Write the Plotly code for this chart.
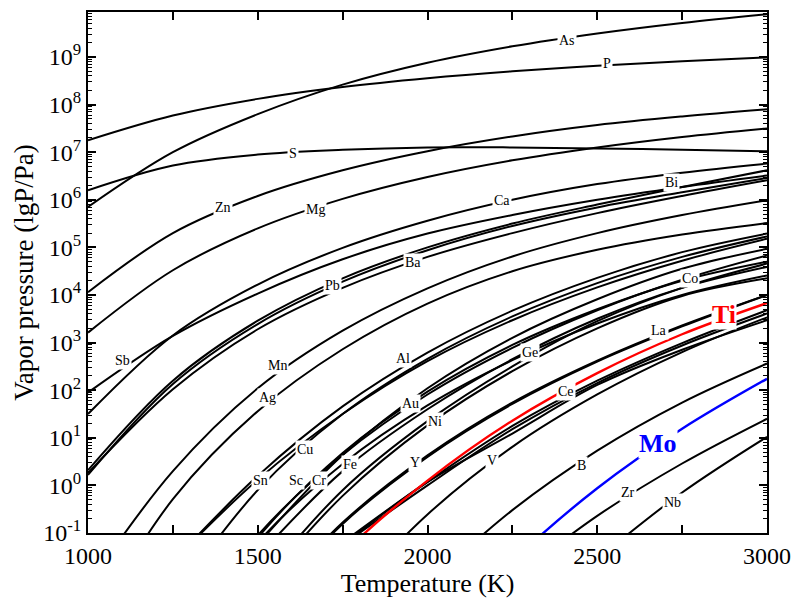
import plotly.graph_objects as go

temps = [1000, 1250, 1500, 1750, 2000, 2250, 2500, 2750, 3000]

# log10 of vapor pressure (Pa) at each temperature
As = [5.85, 7.0, 7.8, 8.42, 8.88, 9.225, 9.495, 9.716, 9.9]
P = [7.25, 7.77, 8.12, 8.37, 8.555, 8.70, 8.816, 8.91, 8.99]
S = [6.2, 6.72, 6.95, 7.05, 7.1, 7.1, 7.08, 7.05, 7.02]
Zn = [4.06, 5.3, 6.08, 6.62, 7.02, 7.33, 7.57, 7.75, 7.9]
Mg = [3.21, 4.52, 5.4, 6.02, 6.48, 6.83, 7.1, 7.32, 7.5]
Sb = [1.95, 3.14, 4.03, 4.75, 5.29, 5.68, 6.0, 6.27, 6.51]
Ca = [1.5, 3.15, 4.22, 4.99, 5.56, 6.0, 6.33, 6.57, 6.76]
Bi = [0.32, 2.2, 3.46, 4.35, 5.0, 5.5, 5.9, 6.27, 6.62]
Pb = [0.22, 2.13, 3.39, 4.28, 4.94, 5.45, 5.84, 6.16, 6.46]
Ba = [0.26, 2.02, 3.28, 4.15, 4.8, 5.3, 5.72, 6.08, 6.41]
Mn = [-2.1, 0.3, 2.04, 3.25, 4.14, 4.81, 5.3, 5.68, 5.99]
Ag = [-3.08, -0.29, 1.56, 2.86, 3.82, 4.5, 4.95, 5.27, 5.51]
Al = [None, -1.6, 0.2, 1.66, 2.79, 3.67, 4.36, 4.9, 5.29]
Cu = [None, -2.4, -0.1, 1.5, 2.66, 3.55, 4.25, 4.8, 5.23]
Sn = [None, -1.6, 0.12, 1.5, 2.61, 3.47, 4.16, 4.72, 5.18]
Cr = [None, None, -1.24, 0.64, 2.04, 3.1, 3.91, 4.55, 4.97]
Au = [None, -3.42, -1.05, 0.64, 1.91, 2.89, 3.68, 4.32, 4.83]
Sc = [None, -3.65, -1.1, 0.68, 1.97, 2.95, 3.7, 4.3, 4.7]
Co = [None, None, -2.1, -0.1, 1.35, 2.5, 3.45, 4.15, 4.66]
Fe = [None, None, -1.5, 0.3, 1.6, 2.65, 3.5, 4.15, 4.59]
Ge = [None, -3.6, -1.2, 0.45, 1.68, 2.63, 3.4, 4.0, 4.41]
Ni = [None, None, -2.2, -0.22, 1.26, 2.4, 3.3, 3.98, 4.35]
Y = [None, None, -2.7, -0.78, 0.63, 1.74, 2.62, 3.36, 4.0]
La = [None, None, -2.75, -0.81, 0.6, 1.71, 2.6, 3.34, 4.0]
Ti = [None, None, -3.62, -1.45, 0.10, 1.36, 2.36, 3.175, 3.83]
Ce = [None, None, None, -1.2, 0.08, 1.25, 2.2, 2.99, 3.68]
V = [None, None, None, -2.44, -0.61, 0.81, 1.91, 2.8, 3.53]
B = [None, None, None, None, -2.08, -0.52, 0.73, 1.74, 2.56]
Mo = [None, None, None, None, -3.5, -1.6, -0.06, 1.19, 2.24]
Zr = [None, None, None, None, None, -1.98, -0.64, 0.46, 1.4]
Nb = [None, None, None, None, None, None, -1.55, -0.15, 1.02]
# two unlabeled curves running alongside Ti
U1 = [None, None, None, -1.25, 0.0, 1.18, 2.15, 2.94, 3.61]
U2 = [None, None, None, -1.25, 0.07, 1.09, 2.11, 2.85, 3.47]

series = {
    "As": As, "P": P, "S": S, "Zn": Zn, "Mg": Mg, "Sb": Sb, "Ca": Ca, "Bi": Bi,
    "Pb": Pb, "Ba": Ba, "Mn": Mn, "Ag": Ag, "Al": Al, "Cu": Cu, "Sn": Sn,
    "Cr": Cr, "Au": Au, "Sc": Sc, "Co": Co, "Fe": Fe, "Ge": Ge, "Ni": Ni,
    "Y": Y, "La": La, "Ce": Ce, "U1": U1, "U2": U2, "V": V, "B": B, "Zr": Zr, "Nb": Nb,
    "Ti": Ti, "Mo": Mo,
}

# inline label anchor (T in K, log10 P)
label_T = {"As": 2411, "P": 2529, "S": 1604, "Zn": 1398, "Mg": 1669, "Ca": 2220,
           "Bi": 2720, "Ba": 1957, "Pb": 1719, "Sb": 1103, "Mn": 1557, "Ag": 1530,
           "Al": 1928, "Co": 2773, "Ge": 2302, "La": 2682, "Ti": 2874, "Au": 1949,
           "Ni": 2022, "Ce": 2408, "Cu": 1639, "Sn": 1507, "Sc": 1613, "Cr": 1681,
           "Fe": 1772, "Y": 1963, "V": 2190, "B": 2455, "Mo": 2679, "Zr": 2591, "Nb": 2723}
label_L = {"As": 9.35, "P": 8.87, "S": 6.98, "Zn": 5.84, "Mg": 5.80, "Ca": 5.99,
           "Bi": 6.37, "Ba": 4.69, "Pb": 4.20, "Sb": 2.63, "Mn": 2.52, "Ag": 1.85,
           "Al": 2.67, "Co": 4.35, "Ge": 2.80, "La": 3.26, "Ti": 3.59, "Au": 1.72,
           "Ni": 1.35, "Ce": 1.98, "Cu": 0.76, "Sn": 0.11, "Sc": 0.11, "Cr": 0.11,
           "Fe": 0.44, "Y": 0.49, "V": 0.53, "B": 0.42, "Mo": 0.88, "Zr": -0.15, "Nb": -0.36}

colors = {"Ti": "#ff0000", "Mo": "#0000ff"}
SERIF = "Liberation Serif"

fig = go.Figure()
for name, vals in series.items():
    xs = [t for t, v in zip(temps, vals) if v is not None]
    ys = [10 ** v for v in vals if v is not None]
    c = colors.get(name, "black")
    fig.add_trace(go.Scatter(x=xs, y=ys, mode="lines", name=name,
                             line=dict(color=c, width=2.4 if name in colors else 2,
                                       shape="spline", smoothing=1.0),
                             showlegend=False, hoverinfo="skip"))

for name in label_T:
    big = name in colors
    fig.add_annotation(x=label_T[name], y=label_L[name],
                       text=("<b>%s</b>" % name) if big else name, showarrow=False,
                       font=dict(family=SERIF, size=26 if big else 14,
                                 color=colors.get(name, "black")),
                       bgcolor="white", borderpad=0 if big else 1,
                       xanchor="center", yanchor="middle")

dec = list(range(-1, 10))
ytickvals = [10 ** d for d in dec]
yticktext = ["10<sup>%d</sup>" % d for d in dec]
yminor = [m * 10 ** d for d in range(-1, 10) for m in range(2, 10) if m * 10 ** d < 8.8e9]

fig.update_layout(
    width=793, height=600,
    margin=dict(l=88, r=26, t=12, b=67, autoexpand=False),
    paper_bgcolor="white", plot_bgcolor="white",
    font=dict(family=SERIF, color="black"),
    xaxis=dict(range=[1000, 3000], tickmode="array",
               tickvals=[1000, 1500, 2000, 2500, 3000],
               ticktext=["1000", "1500", "2000", "2500", "3000"],
               ticks="inside", ticklen=8, tickwidth=1.5, tickcolor="black",
               minor=dict(tickmode="array", tickvals=[1250, 1750, 2250, 2750],
                          ticks="inside", ticklen=8, tickwidth=1.5, tickcolor="black",
                          showgrid=False),
               showline=True, linecolor="black", linewidth=2, mirror="allticks",
               showgrid=False, zeroline=False, automargin=False,
               tickfont=dict(family=SERIF, size=24),
               title=dict(text="Temperature (K)", font=dict(family=SERIF, size=26),
                          standoff=2)),
    yaxis=dict(type="log", range=[-1, 9.945], tickmode="array",
               tickvals=ytickvals, ticktext=yticktext,
               ticks="inside", ticklen=8, tickwidth=1.5, tickcolor="black",
               minor=dict(tickmode="array", tickvals=yminor, ticks="inside", ticklen=4,
                          tickwidth=1, tickcolor="black", showgrid=False),
               showline=True, linecolor="black", linewidth=2, mirror="allticks",
               showgrid=False, zeroline=False, automargin=False,
               tickfont=dict(family=SERIF, size=24),
               title=dict(text="Vapor pressure (lgP/Pa)",
                          font=dict(family=SERIF, size=27), standoff=2)),
)

fig.write_html("out.html")
